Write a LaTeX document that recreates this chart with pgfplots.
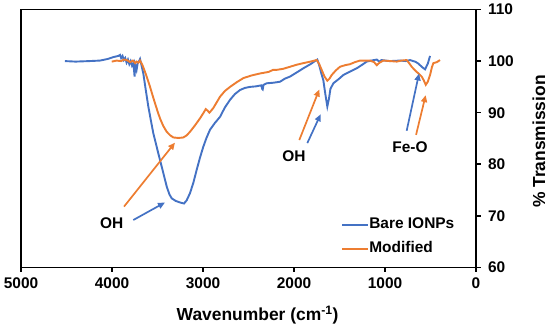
\documentclass[border=0pt]{standalone}
\usepackage{fontspec}
\setmainfont{Liberation Sans}
\usepackage{pgfplots}
\pgfplotsset{compat=1.18}
\usetikzlibrary{arrows.meta}
\definecolor{cblue}{HTML}{4472C4}
\definecolor{corange}{HTML}{ED7D31}
\newcommand{\fs}{\fontsize{15.5}{18}\selectfont\bfseries}
\newcommand{\fl}{\fontsize{17.5}{20}\selectfont\bfseries}
\begin{document}
\begin{tikzpicture}
\begin{axis}[
  width=455bp, height=258bp, scale only axis,
  x dir=reverse, xmin=0, xmax=5000, ymin=60, ymax=110,
  xtick={0,1000,...,5000}, ytick={60,70,...,110},
  xtick pos=bottom, ytick pos=right, yticklabel pos=right,
  tick align=outside, major tick length=4.5bp,
  axis line style={line width=1.6bp},
  every tick/.style={black, line width=1.6bp},
  tick label style={font=\fs},
  yticklabel style={xshift=4bp},
  xticklabel style={yshift=-2bp},
  /pgf/number format/assume math mode=true,
  /pgf/number format/1000 sep={},
  clip=false,
  legend cell align=left,
  legend image code/.code={\draw[#1, line width=2bp] (0bp,0bp) -- (26bp,0bp);},
  legend style={draw=none, fill=none, font=\fs,
    at={(axis cs:1515,70.3)}, anchor=north west,
    row sep=8bp,
    nodes={inner sep=0pt, text height=12bp, text depth=4bp},
    /tikz/every even column/.style={column sep=7bp}},
]
\addplot[cblue, line width=1.9bp] table {
4517 100.0
4400 99.9
4250 100.0
4132 100.1
4050 100.4
3980 100.8
3930 101.0
3912 101.2
3900 100.6
3885 101.0
3870 100.2
3855 100.6
3840 99.7
3825 100.3
3810 99.4
3795 100.0
3780 99.1
3765 99.6
3752 97.0
3745 99.3
3730 98.3
3718 99.6
3705 99.9
3692 100.4
3680 99.5
3656 97.6
3630 94.5
3601 91.2
3573 88.5
3546 86.0
3491 82.1
3436 78.3
3399 75.7
3370 74.2
3344 73.4
3300 72.9
3253 72.6
3209 72.4
3180 73.0
3143 74.4
3105 76.5
3070 78.9
3033 81.3
2997 83.4
2960 85.2
2923 86.7
2870 88.0
2813 89.2
2760 91.0
2703 92.5
2650 93.6
2593 94.4
2540 94.8
2484 95.0
2420 95.1
2360 95.3
2350 94.6
2344 94.5
2335 95.4
2300 95.7
2230 95.8
2154 96.0
2100 96.6
2044 97.0
1970 97.8
1898 98.6
1820 99.4
1744 100.3
1720 99.0
1700 97.6
1678 96.3
1655 93.5
1634 91.2
1615 92.8
1600 94.6
1568 95.7
1510 96.5
1458 97.3
1380 98.0
1311 98.6
1250 99.3
1201 99.9
1150 100.1
1091 100.3
1070 100.0
1055 99.9
1040 100.2
950 100.0
835 100.1
770 100.0
725 100.2
690 100.0
670 99.9
640 99.6
615 99.2
590 98.8
560 98.4
530 99.5
505 101.0
};
\addlegendentry{Bare IONPs}
\addplot[corange, line width=1.9bp] table {
4003 99.9
3950 100.1
3900 100.0
3870 100.3
3838 100.2
3800 99.8
3770 100.1
3745 99.6
3729 99.9
3710 99.7
3692 100.1
3665 99.2
3637 97.9
3610 96.5
3582 95.0
3555 93.4
3527 91.8
3500 90.3
3473 88.9
3436 87.4
3399 86.3
3360 85.6
3326 85.2
3270 85.1
3216 85.2
3180 85.6
3143 86.3
3090 87.5
3033 88.9
2990 90.1
2970 90.7
2950 90.4
2930 90.0
2915 90.3
2887 90.9
2850 92.0
2813 93.1
2760 94.2
2703 95.0
2630 95.9
2557 96.7
2470 97.2
2374 97.6
2280 97.9
2230 98.3
2190 98.3
2120 98.5
2044 98.9
1970 99.3
1898 99.6
1820 99.9
1751 100.2
1725 99.5
1696 98.3
1665 97.0
1634 96.2
1610 96.6
1586 97.3
1540 98.2
1495 98.9
1440 99.2
1385 99.4
1330 99.8
1275 100.1
1165 100.1
1120 99.8
1091 99.2
1060 99.7
1018 100.1
940 100.0
871 99.9
820 100.1
762 100.2
735 99.6
707 98.9
680 98.4
652 97.9
625 97.5
597 97.0
575 96.3
552 95.4
530 96.0
505 97.3
485 98.8
469 99.6
430 99.8
396 100.2
};
\addlegendentry{Modified}
% annotations
\node[font=\fs] at (axis cs:4003,68.6) {OH};
\node[font=\fs] at (axis cs:2000,81.6) {OH};
\node[font=\fs] at (axis cs:725,83.4) {Fe-O};
\draw[cblue, line width=1.7bp, -{Triangle[length=7bp,width=6bp]}] (axis cs:3766,69.2) -- (axis cs:3418,72.6);
\draw[corange, line width=1.7bp, -{Triangle[length=7bp,width=6bp]}] (axis cs:3868,71.8) -- (axis cs:3308,84.2);
\draw[corange, line width=1.7bp, -{Triangle[length=7bp,width=6bp]}] (axis cs:1942,84.7) -- (axis cs:1722,94.5);
\draw[cblue, line width=1.7bp, -{Triangle[length=7bp,width=6bp]}] (axis cs:1854,84.1) -- (axis cs:1707,89.7);
\draw[cblue, line width=1.7bp, -{Triangle[length=7bp,width=6bp]}] (axis cs:762,86.5) -- (axis cs:626,97.6);
\draw[corange, line width=1.7bp, -{Triangle[length=7bp,width=6bp]}] (axis cs:659,85.7) -- (axis cs:553,93.4);
% axis labels
\node[font=\fl] at (axis description cs:0.52,-0.184) {Wavenumber (cm\textsuperscript{-1})};
\node[font=\fl, rotate=90] at (axis description cs:1.138,0.488) {\% Transmission};
% bounding box
\path (axis description cs:-0.0462,-0.2345) rectangle (axis description cs:1.1626,1.0368);
\end{axis}
\end{tikzpicture}
\end{document}
